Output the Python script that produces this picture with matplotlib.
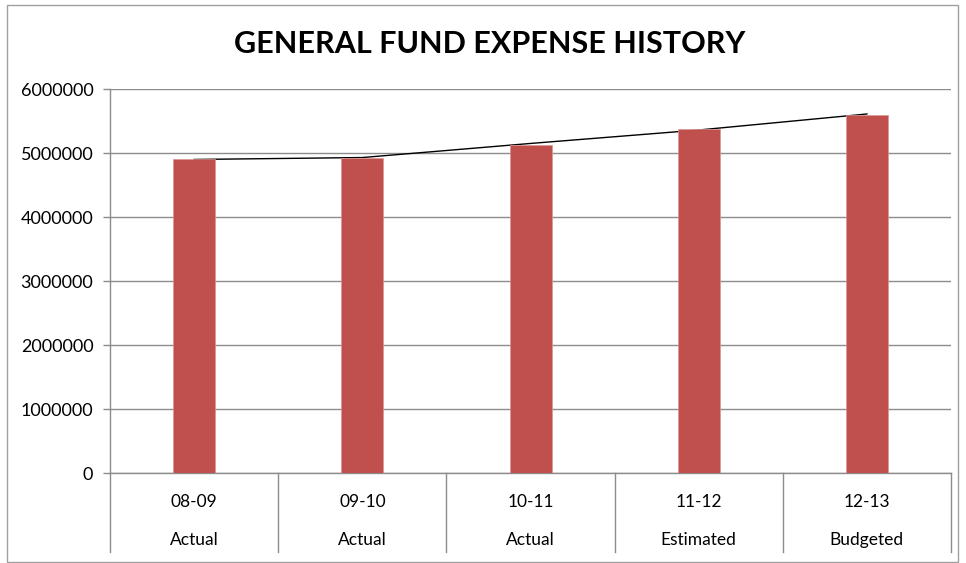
import matplotlib
matplotlib.use('Agg')
import matplotlib.pyplot as plt
import matplotlib.transforms as mtransforms
from matplotlib.patches import Rectangle

years = ['08-09', '09-10', '10-11', '11-12', '12-13']
kinds = ['Actual', 'Actual', 'Actual', 'Estimated', 'Budgeted']
expenses = [4910000, 4920000, 5130000, 5370000, 5600000]
trend = [4900000, 4930000, 5150000, 5360000, 5610000]
yticks = [0, 1000000, 2000000, 3000000, 4000000, 5000000, 6000000]

plt.rcParams['font.family'] = ['Lato', 'DejaVu Sans']

fig = plt.figure(figsize=[9.66, 5.63], dpi=100)
ax = fig.add_axes([0.1139, 0.1593, 0.8706, 0.6826])

pos = list(range(len(years)))
ax.plot(pos, trend, color='black', lw=1.0, zorder=2)
ax.bar(pos, expenses, width=0.25, color='#C0504D', edgecolor='#D99694',
       linewidth=0.5, zorder=3)

ax.set_xlim(-0.5, len(years) - 0.5)
ax.set_ylim(0, 6000000)
ax.set_yticks(yticks)
ax.set_yticklabels([str(t) for t in yticks], fontsize=13, color='black')
ax.set_xticks([])
ax.grid(axis='y', color='#8C8C8C', lw=1, zorder=0)
ax.set_axisbelow(True)
ax.tick_params(axis='y', length=5, width=1, color='#8C8C8C', pad=7)

for s in ['top', 'right']:
    ax.spines[s].set_visible(False)
for s in ['left', 'bottom']:
    ax.spines[s].set_color('#8C8C8C')
    ax.spines[s].set_linewidth(1)

# category divider lines and two-level labels under the axis
trans = mtransforms.blended_transform_factory(ax.transData, ax.transAxes)
for i in range(len(years) + 1):
    ax.plot([i - 0.5, i - 0.5], [0, -0.206], transform=trans, color='#8C8C8C',
            lw=1, clip_on=False)
for i in pos:
    ax.text(i, -0.075, years[i], transform=trans, ha='center', va='center',
            fontsize=12.5, color='black')
    ax.text(i, -0.174, kinds[i], transform=trans, ha='center', va='center',
            fontsize=12.5, color='black')

fig.text(490 / 966, 1 - 44 / 563, 'GENERAL FUND EXPENSE HISTORY',
         ha='center', va='center', fontsize=22, fontweight='bold')

fig.patches.append(Rectangle((7 / 966, 1 / 563), 951 / 966, 557 / 563,
                             transform=fig.transFigure, fill=False,
                             edgecolor='#A0A0A0', lw=1))

fig.savefig('out.png', dpi=100)
